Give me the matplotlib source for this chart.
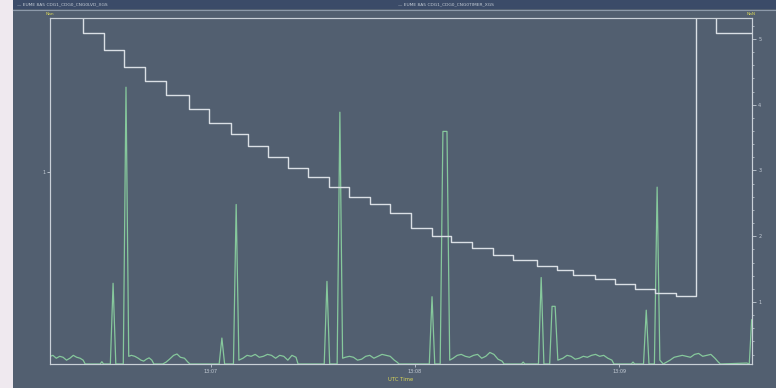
import matplotlib.pyplot as plt
from matplotlib.patches import Rectangle
import matplotlib.lines as mlines

W, H = 776, 388

# seconds after 13:06:00
step_t = [12.6, 22.4, 28.5, 34.4, 40.6, 46.8, 53.5, 59.4, 65.9, 70.9, 76.8,
          82.6, 88.5, 94.7, 100.6, 106.8, 112.6, 118.8, 125.0, 130.6, 136.8,
          142.9, 148.8, 155.9, 161.8, 166.5, 172.9, 178.8, 184.7, 190.6, 196.8,
          202.6, 208.4, 219.2]
step_v = [5.6, 5.09, 4.84, 4.58, 4.36, 4.15, 3.94, 3.72, 3.56, 3.37, 3.21,
          3.04, 2.90, 2.75, 2.60, 2.49, 2.35, 2.13, 2.00, 1.91, 1.82,
          1.72, 1.64, 1.55, 1.49, 1.41, 1.35, 1.27, 1.20, 1.14, 1.09,
          5.6, 5.09, 5.09]

green_t = [12.7, 13.5, 14.5, 15.5, 16.5, 17.5, 18.5, 19.5, 20.5, 21.5, 22.4, 23.0,
           27.4, 27.9, 28.4, 30.4, 31.2, 32.0, 34.2, 35.0, 35.8,
           36.6, 37.6, 38.6, 39.4, 40.2, 41.0, 41.8, 42.6, 43.2,
           45.8, 46.8, 47.8, 49.0, 50.0, 51.0, 52.2, 53.2, 53.8,
           62.4, 63.2, 64.0, 66.6, 67.4, 68.2,
           69.4, 70.6, 71.8, 73.0, 74.2, 75.4, 76.6, 77.8, 79.0, 80.2, 81.4, 82.6,
           83.8, 85.0, 85.6,
           93.3, 94.1, 94.9, 97.1, 97.9, 98.7,
           99.5, 100.7, 101.9, 103.1, 104.3, 105.5, 106.7, 107.9, 109.1, 110.3,
           111.5, 112.7, 113.9, 114.7, 115.3,
           124.2, 125.0, 125.8, 127.4, 128.2, 129.4, 130.2,
           131.2, 132.4, 133.6, 134.8, 136.0, 137.2, 138.4, 139.6, 140.8, 142.0,
           143.2, 144.4, 145.6, 146.2,
           151.3, 151.8, 152.3,
           156.3, 157.1, 157.9, 159.6, 160.3, 161.2, 162.0,
           163.5, 164.7, 165.9, 167.1, 168.3, 169.5, 170.7, 171.9, 173.1, 174.3,
           175.5, 176.7, 177.9, 178.5,
           183.6, 184.1, 184.6,
           187.2, 188.0, 188.8, 190.4, 191.2, 192.0,
           193.0, 195.0, 196.2, 197.4, 198.6, 199.8, 201.0, 202.2, 203.4, 204.6,
           205.8, 207.0, 208.2, 209.2, 209.8,
           217.6, 218.3, 219.0]
green_v = [0.04, 0.045, 0.03, 0.04, 0.035, 0.02, 0.03, 0.045, 0.035, 0.03, 0.02, 0.0,
           0.0, 0.012, 0.0, 0.0, 0.42, 0.0, 0.0, 1.44, 0.04,
           0.045, 0.04, 0.03, 0.02, 0.015, 0.025, 0.032, 0.02, 0.0,
           0.0, 0.01, 0.025, 0.045, 0.052, 0.035, 0.03, 0.01, 0.0,
           0.0, 0.135, 0.0, 0.0, 0.83, 0.02,
           0.03, 0.045, 0.04, 0.05, 0.035, 0.04, 0.05, 0.045, 0.03, 0.045, 0.04, 0.02,
           0.045, 0.035, 0.0,
           0.0, 0.43, 0.0, 0.0, 1.31, 0.03,
           0.035, 0.04, 0.035, 0.02, 0.025, 0.04, 0.045, 0.03, 0.04, 0.05,
           0.045, 0.04, 0.02, 0.01, 0.0,
           0.0, 0.35, 0.0, 0.0, 1.21, 1.21, 0.02,
           0.03, 0.045, 0.05, 0.04, 0.035, 0.045, 0.05, 0.03, 0.04, 0.06,
           0.05, 0.025, 0.015, 0.0,
           0.0, 0.01, 0.0,
           0.0, 0.45, 0.0, 0.0, 0.30, 0.30, 0.02,
           0.03, 0.045, 0.04, 0.025, 0.03, 0.04, 0.035, 0.045, 0.05, 0.04,
           0.045, 0.03, 0.02, 0.0,
           0.0, 0.01, 0.0,
           0.0, 0.28, 0.0, 0.0, 0.92, 0.02,
           0.0, 0.02, 0.035, 0.04, 0.045, 0.04, 0.035, 0.05, 0.055, 0.04,
           0.045, 0.05, 0.03, 0.01, 0.0,
           0.005, 0.0, 0.23]

x_ticks = [60, 120, 180]
x_labels = ["13:07", "13:08", "13:09"]
right_ticks = [1, 2, 3, 4, 5]
legend_names = ["EUME 8A5 CDG1_CDG0_CNG0LVD_XGS", "EUME 8A5 CDG1_CDG0_CNG0TIMER_XGS"]

BG = "#525f70"
HEADER = "#3b4b68"
FRAME = "#c9d0d8"
GREEN = "#86c89c"
STEP = "#dadfe5"
YELLOW = "#d9d65a"
TEXT = "#c4ccd6"

fig = plt.figure(figsize=(W / 100, H / 100), dpi=100)
fig.patch.set_facecolor(BG)

# light strip on the left and the dark header bar
fig.patches.append(Rectangle((0, 0), 13 / W, 1, transform=fig.transFigure,
                             facecolor="#efe9ef", edgecolor="none", zorder=0))
fig.patches.append(Rectangle((13 / W, 1 - 9 / H), 1, 9 / H, transform=fig.transFigure,
                             facecolor=HEADER, edgecolor="none", zorder=0))
fig.lines.append(mlines.Line2D([13 / W, 1], [1 - 10 / H, 1 - 10 / H],
                               transform=fig.transFigure, color="#8d9aaa", lw=0.8))

fig.text(17 / W, 1 - 4.5 / H, "— " + legend_names[0], color=TEXT, fontsize=3.2, va="center")
fig.text(398 / W, 1 - 4.5 / H, "— " + legend_names[1], color=TEXT, fontsize=3.2, va="center")

ax = fig.add_axes([50 / W, (H - 364) / H, 702 / W, 346 / H])
ax.set_facecolor(BG)
ax.plot(green_t, green_v, color=GREEN, lw=0.9, zorder=3)
ax.set_xlim(12.65, 219.1)
ax.set_ylim(0, 1.8)
ax.set_xticks(x_ticks)
ax.set_xticklabels(x_labels)
ax.set_yticks([1])
ax.set_yticklabels(["1"])
ax.tick_params(axis="x", colors=TEXT, labelsize=3.5, length=2, width=0.6, pad=1.5)
ax.tick_params(axis="y", colors=TEXT, labelsize=3.5, length=2, width=0.6, pad=1.5)
for side in ["left", "right", "top", "bottom"]:
    ax.spines[side].set_color(FRAME)
    ax.spines[side].set_linewidth(0.8)
ax.set_xlabel("UTC Time", color=YELLOW, fontsize=3.8, labelpad=2)

ax2 = ax.twinx()
ax2.plot(step_t, step_v, color=STEP, lw=1.0, drawstyle="steps-post", zorder=2)
ax2.set_ylim(0.056, 5.32)
ax2.set_yticks(right_ticks)
ax2.set_yticks([v / 5 for v in range(1, 27)], minor=True)
ax2.tick_params(axis="y", which="major", colors=TEXT, labelsize=3.5, length=3, width=0.6, pad=1.5)
ax2.tick_params(axis="y", which="minor", colors=FRAME, length=1.5, width=0.5)
for side in ["left", "right", "top", "bottom"]:
    ax2.spines[side].set_color(FRAME)
    ax2.spines[side].set_linewidth(0.8)

fig.text(50 / W, 1 - 14 / H, "Nan", color=YELLOW, fontsize=3.2, ha="center", va="center")
fig.text(751 / W, 1 - 14 / H, "NaN", color=YELLOW, fontsize=3.2, ha="center", va="center")

fig.savefig("out.png", dpi=100, facecolor=fig.get_facecolor())
